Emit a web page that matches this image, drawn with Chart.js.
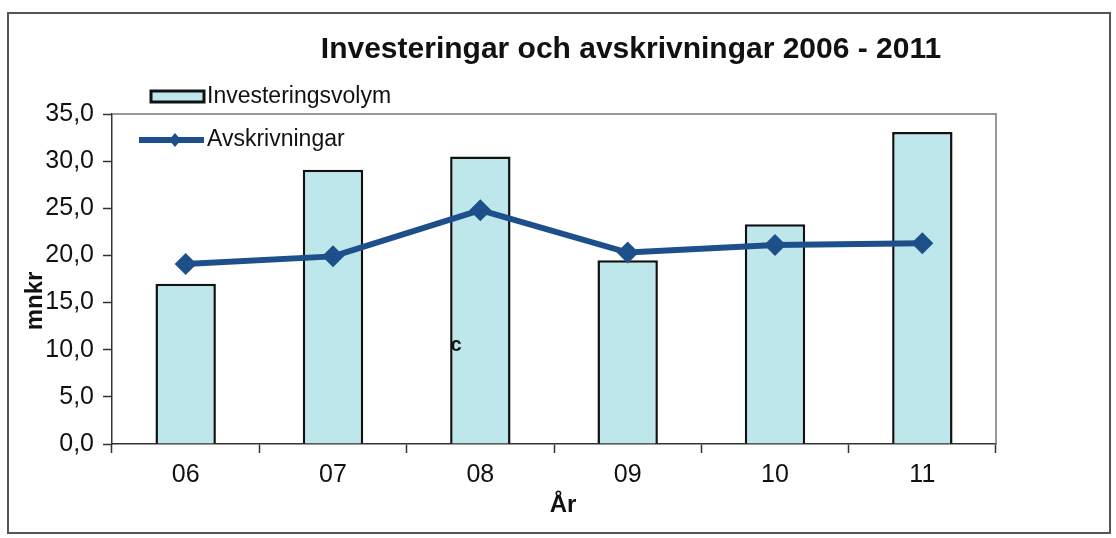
<!DOCTYPE html>
<html>
<head>
<meta charset="utf-8">
<script src="https://cdn.jsdelivr.net/npm/chart.js@4"></script>
<style>
  html, body { margin: 0; padding: 0; background: #fff; }
  #wrap { width: 1116px; height: 538px; position: relative; }
</style>
</head>
<body>
<div id="wrap"><canvas id="chart" width="1116" height="538"></canvas></div>
<script>
// chart values
const years = ['06', '07', '08', '09', '10', '11']
const investeringar = [17.0, 29.1, 30.5, 19.5, 23.3, 33.1]
const avskrivningar = [19.1, 19.9, 24.8, 20.3, 21.1, 21.3]
const yTicks = [0, 5, 10, 15, 20, 25, 30, 35]

const chartTitle = 'Investeringar och avskrivningar 2006 - 2011'
const barName = 'Investeringsvolym'
const lineName = 'Avskrivningar'

const barFill = '#bde7eb'
const lineBlue = '#1d4f8a'
const font = '"Liberation Sans", Arial, sans-serif'

const fmt = v => v.toFixed(1).replace('.', ',')

// frame, plot border, title, legend and axis titles drawn by hand
const decor = {
  id: 'decor',
  beforeDraw(chart) {
    const ctx = chart.ctx
    ctx.save()
    ctx.fillStyle = '#fff'
    ctx.fillRect(0, 0, chart.width, chart.height)
    ctx.strokeStyle = '#555'
    ctx.lineWidth = 2
    ctx.strokeRect(8, 13, 1102, 520)
    ctx.restore()
  },
  afterDatasetsDraw(chart) {
    const ctx = chart.ctx
    const a = chart.chartArea
    ctx.save()
    // top and right of plot box
    ctx.strokeStyle = '#777'
    ctx.lineWidth = 1.5
    ctx.beginPath()
    ctx.moveTo(a.left, a.top)
    ctx.lineTo(a.right, a.top)
    ctx.lineTo(a.right, a.bottom)
    ctx.stroke()

    // title
    ctx.fillStyle = '#111'
    ctx.textBaseline = 'middle'
    ctx.textAlign = 'center'
    ctx.font = 'bold 30px ' + font
    ctx.fillText(chartTitle, 631, 50)

    // legend
    ctx.textAlign = 'left'
    ctx.font = '23px ' + font
    ctx.fillStyle = barFill
    ctx.fillRect(151, 91, 53, 11)
    ctx.strokeStyle = '#111'
    ctx.lineWidth = 3
    ctx.strokeRect(151, 91, 53, 11)
    ctx.fillStyle = '#111'
    ctx.fillText(barName, 207, 97)

    ctx.strokeStyle = lineBlue
    ctx.lineWidth = 6
    ctx.beginPath()
    ctx.moveTo(139, 140)
    ctx.lineTo(204, 140)
    ctx.stroke()
    ctx.fillStyle = lineBlue
    ctx.beginPath()
    ctx.moveTo(175, 133)
    ctx.lineTo(181, 140)
    ctx.lineTo(175, 147)
    ctx.lineTo(169, 140)
    ctx.closePath()
    ctx.fill()
    ctx.fillStyle = '#111'
    ctx.fillText(lineName, 207, 140)

    // axis titles
    ctx.font = 'bold 24px ' + font
    ctx.textAlign = 'center'
    ctx.fillText('År', 563, 505)
    ctx.save()
    ctx.translate(35, 301)
    ctx.rotate(-Math.PI / 2)
    ctx.fillText('mnkr', 0, 0)
    ctx.restore()

    // stray scan mark
    ctx.font = 'bold 20px ' + font
    ctx.fillText('c', 456, 345)
    ctx.restore()
  }
}

const ctx = document.getElementById('chart')

const chart = new Chart(ctx, {
  data: {
    labels: years,
    datasets: [
      {
        type: 'line',
        label: lineName,
        data: avskrivningar,
        borderColor: lineBlue,
        backgroundColor: lineBlue,
        borderWidth: 6,
        pointStyle: 'rectRot',
        pointRadius: 11,
        pointBorderWidth: 0,
        tension: 0,
        order: 0
      },
      {
        type: 'bar',
        label: barName,
        data: investeringar,
        backgroundColor: barFill,
        borderColor: '#111',
        borderWidth: 2.5,
        categoryPercentage: 1,
        barPercentage: 0.41,
        order: 1
      }
    ]
  },
  options: {
    responsive: false,
    animation: false,
    events: [],
    layout: { padding: { left: 0, right: 120, top: 114, bottom: 24 } },
    plugins: {
      legend: { display: false },
      title: { display: false },
      tooltip: { enabled: false }
    },
    scales: {
      x: {
        afterFit(scale) { scale.height = 70 },
        grid: {
          display: true,
          offset: true,
          drawOnChartArea: false,
          tickLength: 9,
          color: '#333',
          tickWidth: 1.5
        },
        border: { color: '#333', width: 1.5 },
        ticks: { color: '#111', padding: 7, font: { family: font, size: 25 } }
      },
      y: {
        min: 0,
        max: 35,
        afterFit(scale) { scale.width = 112 },
        afterBuildTicks(scale) { scale.ticks = yTicks.map(v => ({ value: v })) },
        grid: {
          display: true,
          drawOnChartArea: false,
          tickLength: 9,
          color: '#333',
          tickWidth: 1.5
        },
        border: { color: '#333', width: 1.5 },
        ticks: {
          color: '#111',
          padding: 9,
          font: { family: font, size: 25 },
          callback: v => fmt(v)
        }
      }
    }
  },
  plugins: [decor]
})
</script>
</body>
</html>
